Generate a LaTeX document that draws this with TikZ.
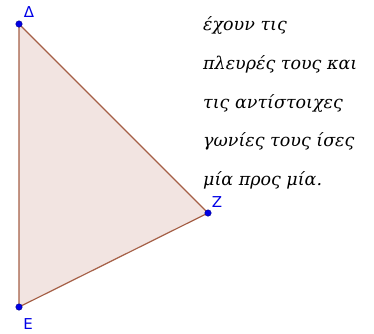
\documentclass[tikz,border=0pt]{standalone}
\usepackage{fontspec}
\setmainfont{DejaVu Serif}
\newfontfamily\lblfont{DejaVu Sans}
\definecolor{edge}{RGB}{165,95,70}
\definecolor{fillc}{RGB}{242,228,225}
\definecolor{ptc}{RGB}{0,0,230}
\tikzset{
  pt/.style={circle,fill=ptc,draw=ptc!60!black,inner sep=0pt,minimum size=6.5pt},
  lbl/.style={text=ptc,font=\lblfont\fontsize{15}{15}\selectfont,inner sep=0pt},
  txt/.style={anchor=base west,inner sep=0pt,font=\itshape\fontsize{17.5}{18}\selectfont}
}
\begin{document}
\begin{tikzpicture}[x=1pt,y=-1pt]
\useasboundingbox (0,0) rectangle (374,333);
\coordinate (D) at (19,24);
\coordinate (Z) at (208,213);
\coordinate (E) at (19,307);
\fill[fillc] (D) -- (Z) -- (E) -- cycle;
\draw[edge,line width=1.2pt] (D) -- (Z) -- (E) -- cycle;
\node[pt] (pD) at (D) {};
\node[pt] (pZ) at (Z) {};
\node[pt] (pE) at (E) {};
\node[lbl] (lD) at (29,12) {Δ};
\node[lbl] (lZ) at (217,202) {Z};
\node[lbl] (lE) at (28,324) {E};
\node[txt] (t1) at (203,30) {έχουν τις};
\node[txt] (t2) at (203,69) {πλευρές τους και};
\node[txt] (t3) at (203,108) {τις αντίστοιχες};
\node[txt] (t4) at (203,146) {γωνίες τους ίσες};
\node[txt] (t5) at (203,185) {μία προς μία.};
\end{tikzpicture}
\end{document}
